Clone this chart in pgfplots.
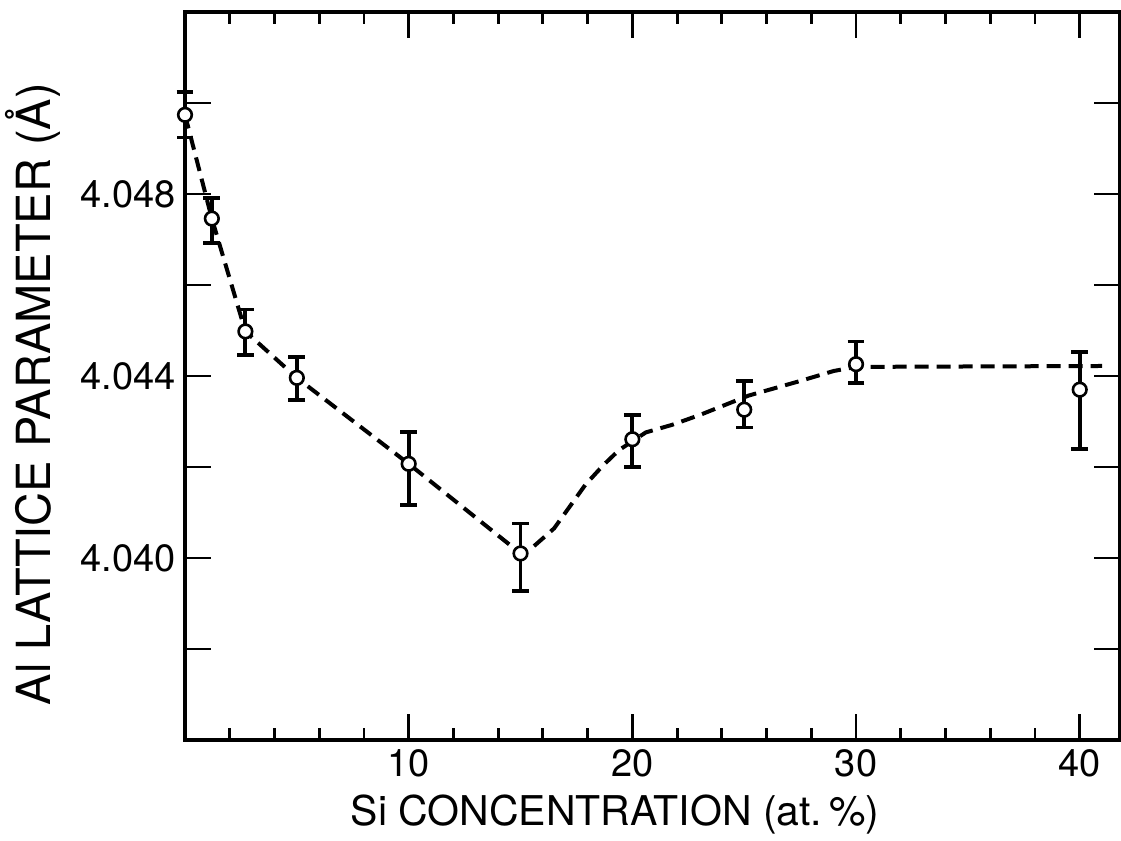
\documentclass[border=0pt]{standalone}
\usepackage{pgfplots}
\pgfplotsset{compat=1.18}
\usepackage{pgfplotstable}
\usepackage{fontspec}
\setmainfont{TeX Gyre Heros}

\pgfplotstableread{
x y ep em
0 4.04974 0.0005 0.0005
1.2 4.04746 0.00045 0.00053
2.7 4.04498 0.00048 0.00052
5 4.04396 0.00045 0.00048
10 4.04207 0.0007 0.0009
15 4.0401 0.00066 0.00082
20 4.04261 0.00054 0.00061
25 4.04326 0.00063 0.00039
30 4.04426 0.0005 0.00041
40 4.0437 0.00082 0.00131
}\pts

\pgfplotstableread{
x y
0 4.04974
1.2 4.04746
2.7 4.04498
5 4.04396
10 4.04207
15 4.0401
15.6 4.04026
16.5 4.04065
17.2 4.04113
17.9 4.04161
18.7 4.04204
19.4 4.04237
20.6 4.04276
21.8 4.04293
23.05 4.04315
25.2 4.04357
27.5 4.04389
29 4.04411
30 4.0442
41 4.04422
}\curve

\begin{document}
\begin{tikzpicture}
\begin{axis}[
  name=ax,
  scale only axis,
  width=467.5pt, height=364pt,
  xmin=0, xmax=41.8,
  ymin=4.036, ymax=4.052,
  axis line style={line width=2pt},
  clip=false,
  tick align=inside,
  xtick={10,20,30,40},
  xticklabels={10,20,30,40},
  minor xtick={2,4,6,8,12,14,16,18,22,24,26,28,32,34,36,38},
  ytick={4.038,4.040,4.042,4.044,4.046,4.048,4.050},
  yticklabels={,4.040,,4.044,,4.048,},
  major tick length=13pt,
  minor tick length=6pt,
  every tick/.style={line width=1.4pt, black},
  tick label style={font=\fontsize{19}{22}\selectfont},
  /pgf/number format/assume math mode=true,
  xticklabel style={yshift=-1pt},
  yticklabel style={xshift=-1pt},
  xlabel={Si CONCENTRATION (at.\,\%)},
  ylabel={Al LATTICE PARAMETER (Å)},
  xlabel style={font=\fontsize{20.5}{24}\selectfont, at={(axis description cs:0.46,-0.103)}, anchor=center},
  ylabel style={font=\fontsize{23.5}{26}\selectfont, at={(axis description cs:-0.163,0.475)}, anchor=center, rotate=0},
]
\addplot[black, line width=2pt, dash pattern=on 7pt off 4pt] table[x=x,y=y]{\curve};
\addplot[black, only marks, mark=*, mark size=3.4pt,
  mark options={fill=white, draw=black, line width=1.3pt, solid},
  error bars/.cd, y dir=both, y explicit,
  error bar style={line width=1.9pt, black, solid},
  error mark options={rotate=90, mark size=4.2pt, line width=1.9pt, black}]
  table[x=x, y=y, y error plus=ep, y error minus=em]{\pts};
\end{axis}
\pgfresetboundingbox
\path ([shift={(-92.5pt,-50.5pt)}]ax.south west) rectangle ([shift={(0.5pt,6pt)}]ax.north east);
\end{tikzpicture}
\end{document}
